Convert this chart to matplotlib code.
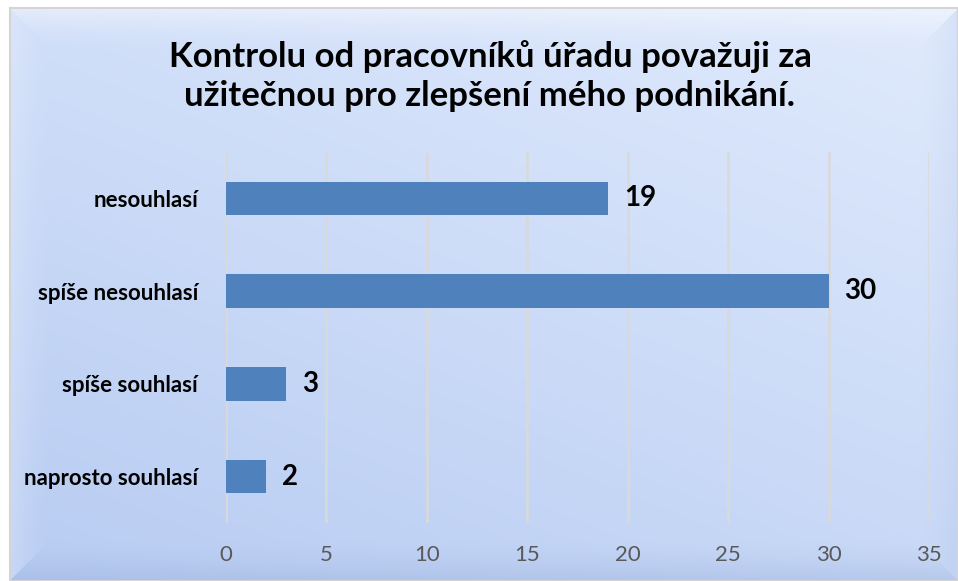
import matplotlib.pyplot as plt
import numpy as np

# data
categories = ['naprosto souhlasí', 'spíše souhlasí', 'spíše nesouhlasí', 'nesouhlasí']
values = [2, 3, 30, 19]
xticks = [0, 5, 10, 15, 20, 25, 30, 35]
title = 'Kontrolu od pracovníků úřadu považuji za\nužitečnou pro zlepšení mého podnikání.'

plt.rcParams['font.family'] = ['Lato', 'DejaVu Sans']

W, H = 958, 581
fig = plt.figure(figsize=(W / 100, H / 100), dpi=100, facecolor='white')

# background panel: diagonal gradient + soft bevel
bg = fig.add_axes([0, 0, 1, 1])
bg.set_xlim(0, W)
bg.set_ylim(H, 0)
bg.axis('off')
x0, y0, x1, y1 = 10, 8, W, H
pw, ph = x1 - x0, y1 - y0
yy, xx = np.mgrid[0:ph, 0:pw].astype(float)
t = 0.6 * (yy / ph) + 0.4 * (1 - xx / pw)
c_top = np.array([0.88, 0.92, 0.99])
c_bot = np.array([0.72, 0.80, 0.95])
img = c_top * (1 - t[..., None]) + c_bot * t[..., None]

b = 42.0
d = np.stack([yy, ph - 1 - yy, xx, pw - 1 - xx])  # top, bottom, left, right
face = d.argmin(axis=0)
dmin = d.min(axis=0)
f = np.clip(1 - dmin / b, 0, 1) ** 1.6
white = np.array([1.0, 1.0, 1.0])
dark = np.array([0.55, 0.64, 0.82])
shade = [(white, 0.45), (dark, 0.30), (white, 0.22), (dark, 0.12)]
for k, (col, s) in enumerate(shade):
    m = (face == k)[..., None] * (f[..., None] * s)
    img = img * (1 - m) + col * m
bg.imshow(img, extent=[x0, x1, y1, y0], aspect='auto', interpolation='bilinear', zorder=0)
bg.plot([x0, x1, x1, x0, x0], [y0, y0, y1, y1, y0], color='#d4d4d4', lw=1.5, zorder=2)

# chart
ax = fig.add_axes([226 / W, 1 - 523 / H, 703 / W, 371 / H])
ax.patch.set_alpha(0)
ypos = np.arange(len(categories))
ax.barh(ypos, values, height=0.36, color='#4f81bd', zorder=3)
for y, v in zip(ypos, values):
    ax.text(v + 0.8, y, str(v), va='center', ha='left', fontsize=20,
            fontweight='bold', color='black')
ax.set_xlim(0, 35)
ax.set_ylim(-0.5, len(categories) - 0.5)
ax.set_xticks(xticks)
ax.set_yticks(ypos)
ax.set_yticklabels(categories, fontsize=16, fontweight='bold')
ax.tick_params(axis='both', length=0)
ax.tick_params(axis='x', colors='#595959', labelsize=16, pad=16)
ax.tick_params(axis='y', pad=20)
ax.grid(axis='x', color='#d9d9d9', lw=1.8, zorder=1)
for s in ax.spines.values():
    s.set_visible(False)

fig.text(490 / W, 1 - 76 / H, title, ha='center', va='center', fontsize=25,
         fontweight='bold', linespacing=1.3)

fig.savefig('out.png', dpi=100)
